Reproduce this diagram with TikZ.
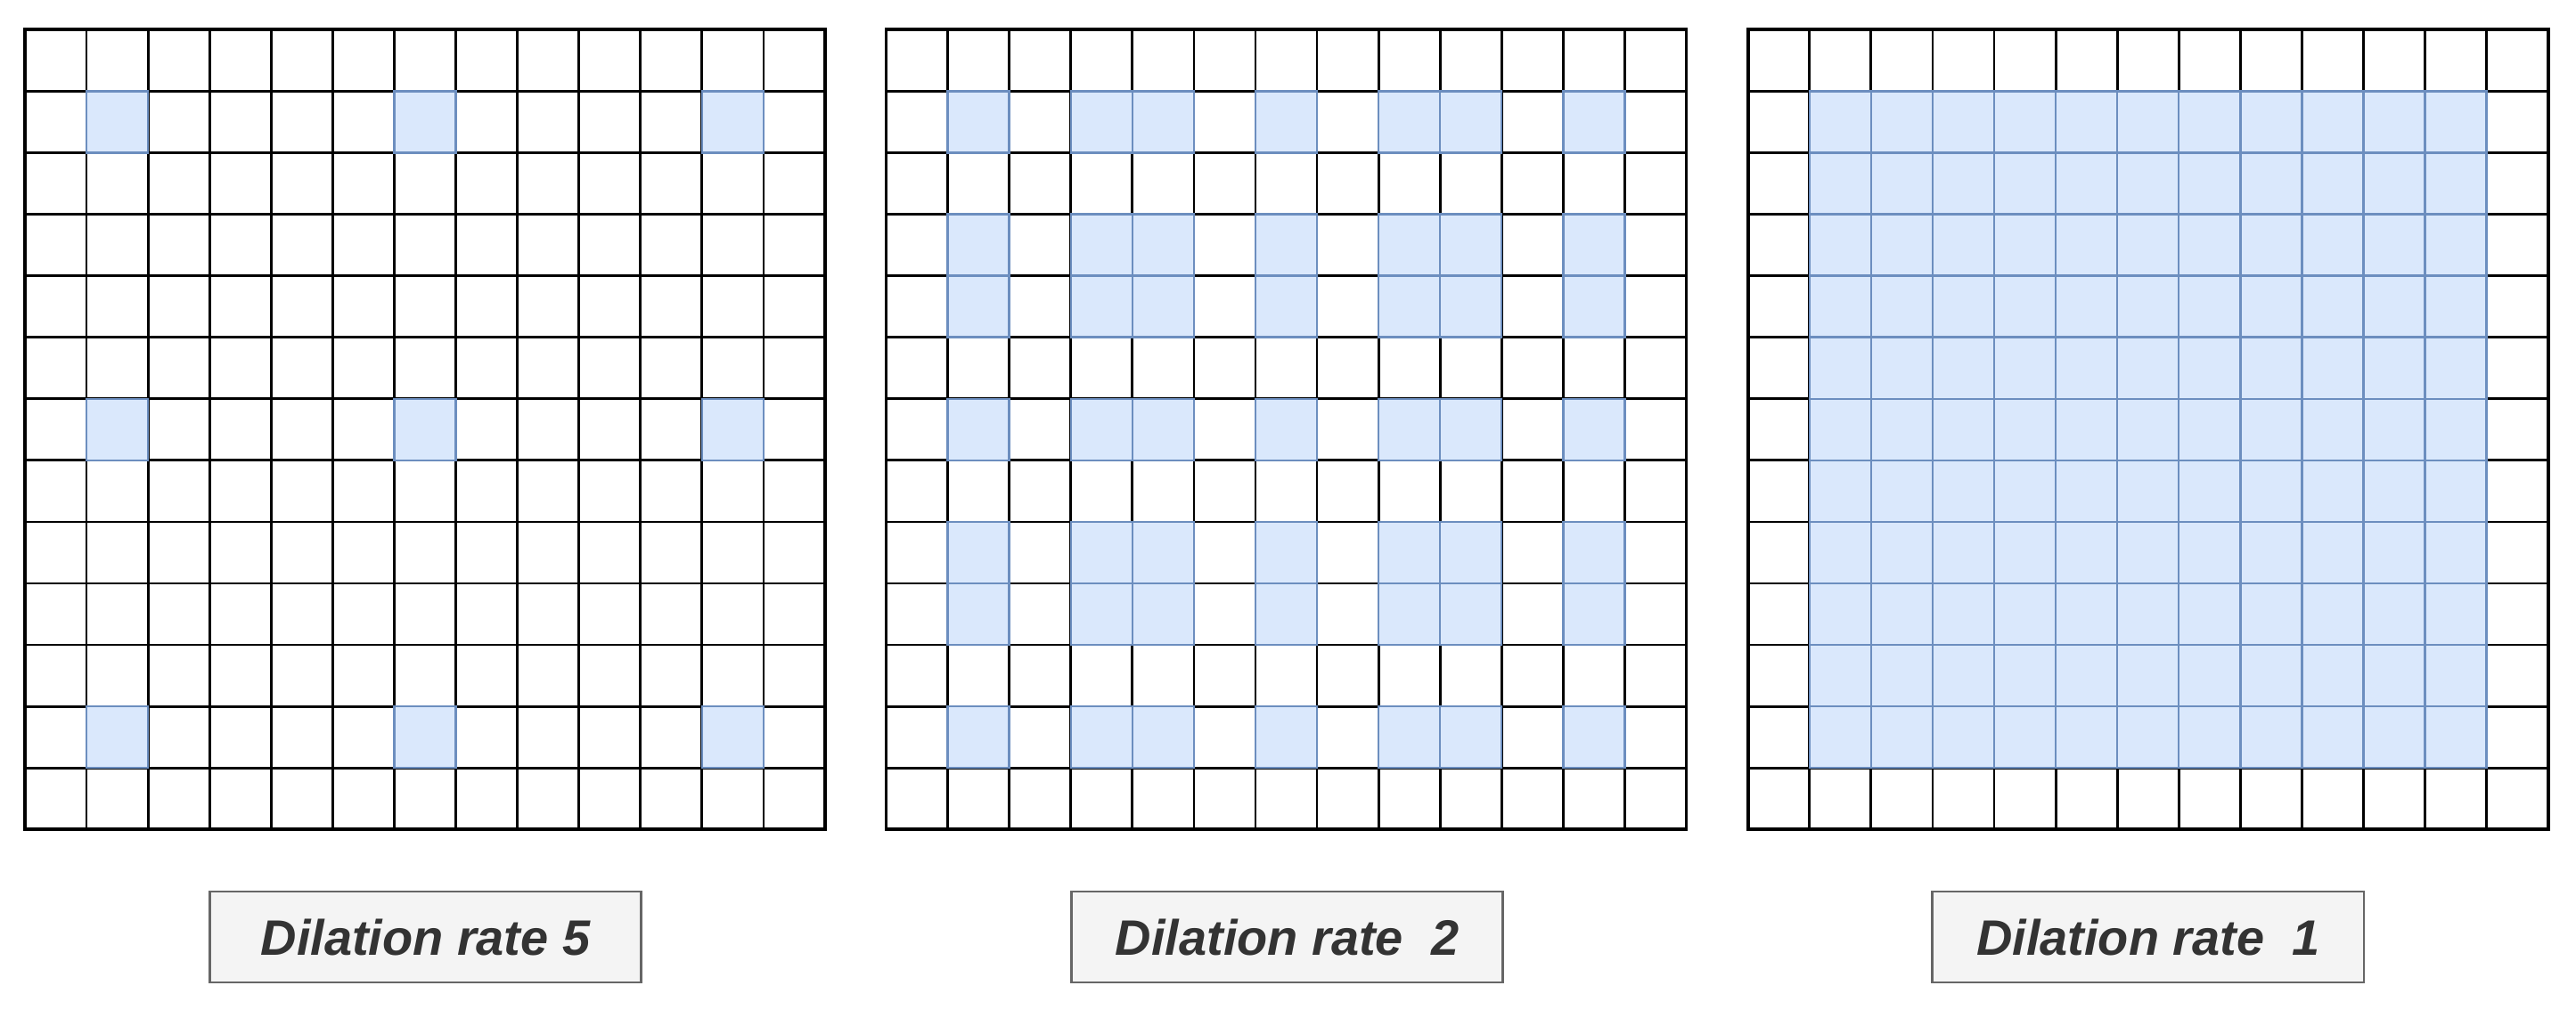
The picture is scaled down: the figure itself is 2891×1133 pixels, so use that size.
\documentclass[tikz,border=0pt]{standalone}
\usepackage{fontspec}
\newfontfamily\labelfont{Liberation Sans}
\definecolor{cellblue}{HTML}{DAE8FC}
\definecolor{cellblueline}{HTML}{6C8EBF}
\definecolor{labelfill}{HTML}{F4F4F4}
\definecolor{labelline}{HTML}{666666}
\definecolor{labeltext}{HTML}{333333}
\begin{document}
\begin{tikzpicture}[x=0.01cm,y=-0.01cm,
  gridline/.style={draw=black,line width=0.028cm},
  outerline/.style={draw=black,line width=0.037cm},
  bluecell/.style={fill=cellblue,draw=cellblueline,line width=0.024cm},
  ratelabel/.style={draw=labelline,fill=labelfill,line width=0.028cm,
    minimum width=4.84cm,minimum height=1.02cm,inner sep=0pt,
    font=\labelfont\bfseries\itshape\fontsize{15.9}{18}\selectfont,text=labeltext}]
\useasboundingbox (0,0) rectangle (2891,1133);
\def\cs{69.077}
\def\tot{898}
% ---- grid 1: dilation rate 5
\begin{scope}[shift={(28,33.3)}]
  \foreach \i in {1,...,12} {
    \draw[gridline] (\i*\cs,0) -- (\i*\cs,\tot);
    \draw[gridline] (0,\i*\cs) -- (\tot,\i*\cs);
  }
  \foreach \r in {1,6,11} \foreach \c in {1,6,11}
    \draw[bluecell] (\c*\cs,\r*\cs) rectangle ++(\cs,\cs);
  \draw[outerline] (0,0) rectangle (\tot,\tot);
\end{scope}
% ---- grid 2: dilation rate 2
\begin{scope}[shift={(994.5,33.3)}]
  \foreach \i in {1,...,12} {
    \draw[gridline] (\i*\cs,0) -- (\i*\cs,\tot);
    \draw[gridline] (0,\i*\cs) -- (\tot,\i*\cs);
  }
  \foreach \r in {1,3,4,6,8,9,11} \foreach \c in {1,3,4,6,8,9,11}
    \draw[bluecell] (\c*\cs,\r*\cs) rectangle ++(\cs,\cs);
  \draw[outerline] (0,0) rectangle (\tot,\tot);
\end{scope}
% ---- grid 3: dilation rate 1
\begin{scope}[shift={(1961.7,33.3)}]
  \foreach \i in {1,...,12} {
    \draw[gridline] (\i*\cs,0) -- (\i*\cs,\tot);
    \draw[gridline] (0,\i*\cs) -- (\tot,\i*\cs);
  }
  \foreach \r in {1,...,11} \foreach \c in {1,...,11}
    \draw[bluecell] (\c*\cs,\r*\cs) rectangle ++(\cs,\cs);
  \draw[outerline] (0,0) rectangle (\tot,\tot);
\end{scope}
% ---- labels
\node[ratelabel] (label5) at (477.5,1052) {Dilation rate 5};
\node[ratelabel] (label2) at (1444.5,1052) {Dilation rate\ \ 2};
\node[ratelabel] (label1) at (2410.8,1052) {Dilation rate\ \ 1};
\end{tikzpicture}
\end{document}
